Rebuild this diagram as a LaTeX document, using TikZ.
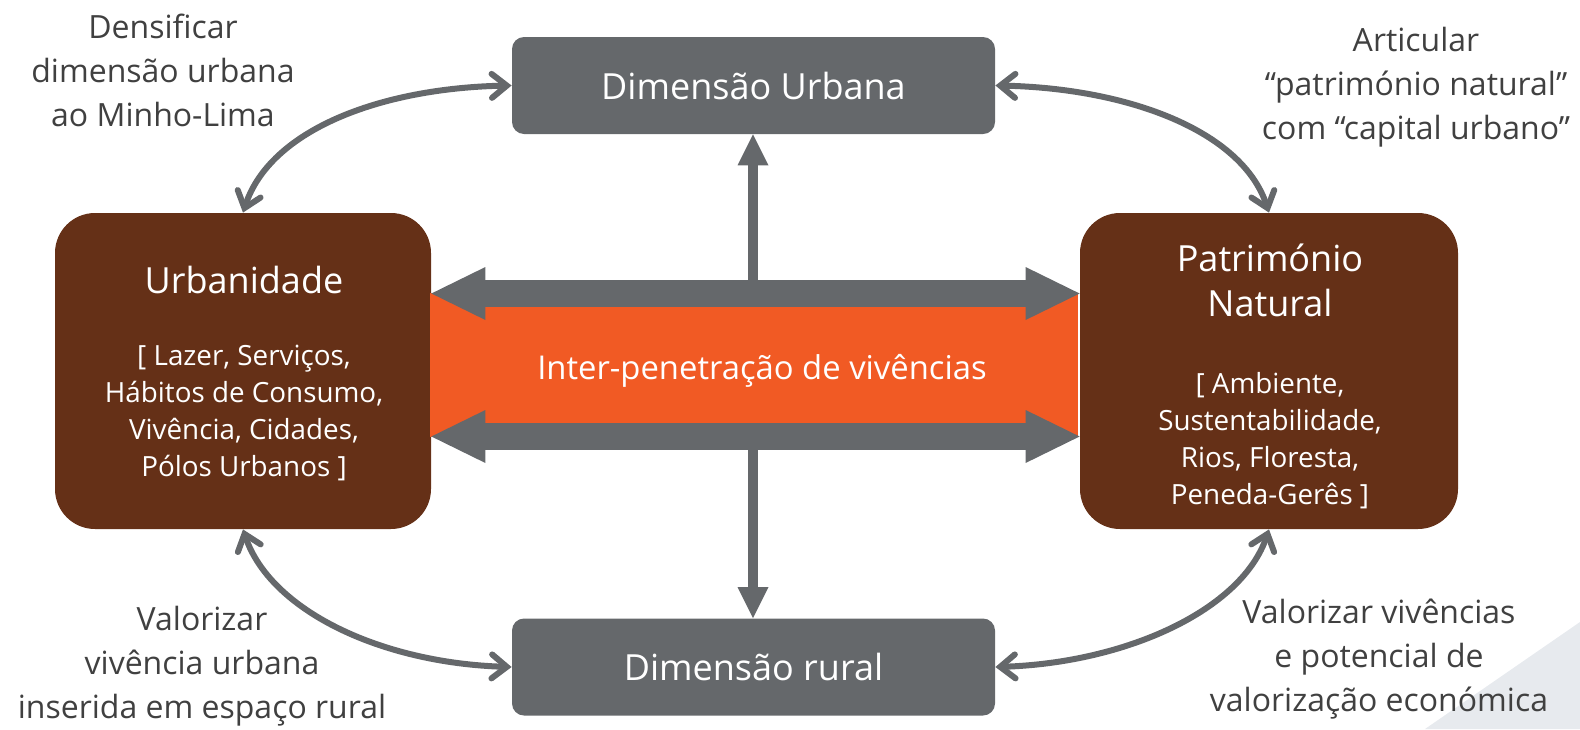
\documentclass[tikz,border=0pt]{standalone}
\usepackage{fontspec}
\setmainfont{Open Sans}
\usetikzlibrary{arrows.meta}
\definecolor{dg}{HTML}{65686B}
\definecolor{br}{HTML}{653017}
\definecolor{og}{HTML}{F15A24}
\definecolor{tx}{HTML}{404040}
\definecolor{tri}{HTML}{E7EAEE}
\begin{document}
\begin{tikzpicture}[x=0.5pt,y=-0.5pt,
  dimbox/.style={fill=dg, rounded corners=6pt, minimum width=241.5pt, minimum height=48.5pt, inner sep=0, text=white, font=\fontsize{18}{22}\selectfont},
  brbox/.style={fill=br, rounded corners=20pt, minimum width=188pt, minimum height=158pt, inner sep=0},
  ttl/.style={text=white, align=center, inner sep=0, font=\fontsize{18}{22.5}\selectfont},
  inn/.style={text=white, align=center, inner sep=0, font=\fontsize{13.9}{18.5}\selectfont},
  lab/.style={text=tx, align=center, inner sep=0, font=\fontsize{16}{22}\selectfont},
  fat/.style={draw=dg, line width=13.5pt, {Triangle[length=27pt,width=26.5pt,line width=0pt]}-{Triangle[length=27pt,width=26.5pt,line width=0pt]}},
  vert/.style={draw=dg, line width=5pt, -{Triangle[length=15.5pt,width=15.5pt,line width=0pt]}},
  cur/.style={draw=dg, line width=3pt, line cap=round, {Straight Barb[length=7.5pt,width=12pt,line cap=round]}-{Straight Barb[length=7.5pt,width=12pt,line cap=round]}}
]
\useasboundingbox (0,0) rectangle (1580,729);
\fill[tri] (1425,729) -- (1580,622) -- (1580,729) -- cycle;

\node[dimbox] (T) at (753.5,85.5) {Dimensão Urbana};
\node[dimbox] (R) at (753.5,667) {Dimensão rural};
\node[brbox] (U) at (243,371) {};
\node[brbox, minimum width=189pt] (P) at (1269,371) {};
\node[fill=og, minimum width=324pt, minimum height=72pt, inner sep=0] (O) at (754,365) {};
\node[text=white, inner sep=0, font=\fontsize{16.4}{19}\selectfont] (Ot) at (762,371) {Inter-penetração de vivências};

\coordinate (h1) at (0,293.5);
\coordinate (h2) at (0,436.5);
\draw[fat] (U.east |- h1) -- (P.west |- h1);
\draw[fat] (U.east |- h2) -- (P.west |- h2);

\coordinate (v1) at (753,280);
\coordinate (v2) at (753,450);
\draw[vert] (v1) -- (v1 |- T.south);
\draw[vert] (v2) -- (v2 |- R.north);

\draw[cur] (U.north) .. controls (270,130) and (380,88) .. (T.west);
\draw[cur] (T.east) .. controls (1126,88) and (1242,130) .. (P.north);
\draw[cur] (U.south) .. controls (270,610) and (380,663) .. (R.west);
\draw[cur] (R.east) .. controls (1126,663) and (1242,610) .. (P.south);

\node[ttl] (Ut) at (244,280) {Urbanidade};
\node[inn] (Ui) at (244,413) {[ Lazer, Serviços,\\Hábitos de Consumo,\\Vivência, Cidades,\\Pólos Urbanos ]};
\node[ttl] (Pt) at (1270,280) {Património\\Natural};
\node[inn] (Pi) at (1270,441) {[ Ambiente,\\Sustentabilidade,\\Rios, Floresta,\\Peneda-Gerês ]};

\node[lab] (L1) at (163,70) {Densificar\\dimensão urbana\\ao Minho-Lima};
\node[lab] (L2) at (1416,87) {Articular\\“património natural”\\com “capital urbano”};
\node[lab] (L3) at (202,666) {Valorizar\\vivência urbana\\inserida em espaço rural};
\node[lab] (L4) at (1379,659) {Valorizar vivências\\e potencial de\\valorização económica};
\end{tikzpicture}
\end{document}
